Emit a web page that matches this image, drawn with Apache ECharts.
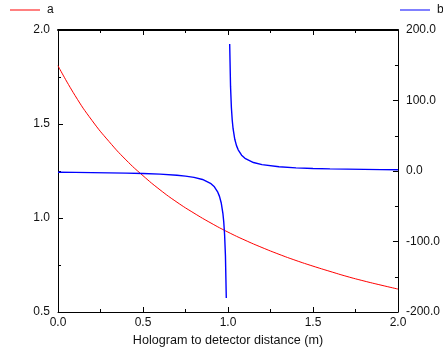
<!DOCTYPE html>
<html><head><meta charset="utf-8">
<script src="https://cdn.jsdelivr.net/npm/echarts@6/dist/echarts.min.js"></script>
<style>html,body{margin:0;padding:0;background:#fff}#c{width:443px;height:356px}</style>
</head><body><div id="c"></div>
<script>
// Series a (left axis)
const aX = [0,0.1,0.2,0.3,0.4,0.5,0.6,0.7,0.8,0.9,1.0,1.1,1.2,1.3,1.4,1.5,1.6,1.7,1.8,1.9,2.0];
const aY = [1.81,1.652,1.519,1.407,1.309,1.225,1.150,1.084,1.026,0.973,0.925,0.882,0.843,0.807,0.774,0.744,0.716,0.689,0.665,0.643,0.622];
// Series b (right axis), left branch and right branch of the curve
const bLeftX = [0,0.1,0.2,0.3,0.4,0.5,0.6,0.7,0.75,0.8,0.85,0.9,0.92,0.94,0.95,0.96,0.97,0.975,0.98,0.985,0.99];
const bLeftY = [-1.8,-2.0,-2.25,-2.6,-3.0,-3.6,-4.5,-6.0,-7.2,-9.0,-12,-18,-22.5,-30,-36,-45,-60,-72,-90,-120,-180];
const bRightX = [1.01,1.015,1.02,1.025,1.03,1.04,1.05,1.06,1.08,1.1,1.15,1.2,1.3,1.4,1.5,1.6,1.7,1.8,1.9,2.0];
const bRightY = [180,120,90,72,60,45,36,30,22.5,18,12,9,6,4.5,3.6,3.0,2.6,2.25,2.0,1.8];
const xTicks = {min:0, max:2, interval:0.5};
const aTicks = {min:0.5, max:2, interval:0.5};
const bTicks = {min:-200, max:200, interval:100};

const aData = aX.map((x,i)=>[x,aY[i]]);
const bData = bLeftX.map((x,i)=>[x,bLeftY[i]]).concat([[1.0,null]], bRightX.map((x,i)=>[x,bRightY[i]]));

const font = 'Liberation Sans, Arial, sans-serif';
const txt = {color:'#111', fontFamily:font, fontSize:12};
const axLine = {show:true, onZero:false, lineStyle:{color:'#000', width:1}};
const tick = {show:true, inside:true, length:5, lineStyle:{color:'#000'}};
const minor = {show:true, splitNumber:2, length:3, lineStyle:{color:'#000'}};
const legTxt = Object.assign({padding:[0,0,0,2]}, txt);

const chart = echarts.init(document.getElementById('c'), null, {renderer:'canvas'});
chart.setOption({
  animation:false,
  backgroundColor:'#fff',
  legend:[
    {data:[{name:'a', icon:'rect'}], left:10, top:4, itemWidth:30, itemHeight:1, textStyle:legTxt, padding:0},
    {data:[{name:'b', icon:'rect'}], left:400, top:4, itemWidth:30, itemHeight:1, textStyle:legTxt, padding:0}
  ],
  grid:{left:58, right:43, top:30, bottom:44, containLabel:false},
  xAxis:[
    {type:'value', position:'bottom', min:xTicks.min, max:xTicks.max, interval:xTicks.interval,
     axisLine:axLine, axisTick:tick, minorTick:minor, splitLine:{show:false},
     axisLabel:Object.assign({margin:5, formatter:v=>v.toFixed(1)}, txt),
     name:'Hologram to detector distance (m)', nameLocation:'middle', nameGap:22,
     nameTextStyle:Object.assign({}, txt, {fontSize:12.6})},
    {type:'value', position:'top', min:xTicks.min, max:xTicks.max, interval:xTicks.interval,
     axisLine:{show:true, onZero:false, lineStyle:{color:'#000', width:2}},
     axisTick:tick, minorTick:minor, splitLine:{show:false}, axisLabel:{show:false}}
  ],
  yAxis:[
    {type:'value', position:'left', min:aTicks.min, max:aTicks.max, interval:aTicks.interval,
     axisLine:axLine, axisTick:tick, minorTick:minor, splitLine:{show:false},
     axisLabel:Object.assign({margin:8, formatter:v=>v.toFixed(1)}, txt)},
    {type:'value', position:'right', min:bTicks.min, max:bTicks.max, interval:bTicks.interval,
     axisLine:axLine, axisTick:tick, minorTick:minor, splitLine:{show:false},
     axisLabel:Object.assign({margin:8, formatter:v=>v.toFixed(1)}, txt)}
  ],
  series:[
    {name:'a', type:'line', xAxisIndex:0, yAxisIndex:0, data:aData, symbol:'none', smooth:true,
     lineStyle:{color:'#ff0000', width:1}, itemStyle:{color:'#ff0000'}},
    {name:'b', type:'line', xAxisIndex:0, yAxisIndex:1, data:bData, symbol:'none', connectNulls:false,
     lineStyle:{color:'#0000ff', width:1.4}, itemStyle:{color:'#0000ff'}}
  ]
});
</script></body></html>
